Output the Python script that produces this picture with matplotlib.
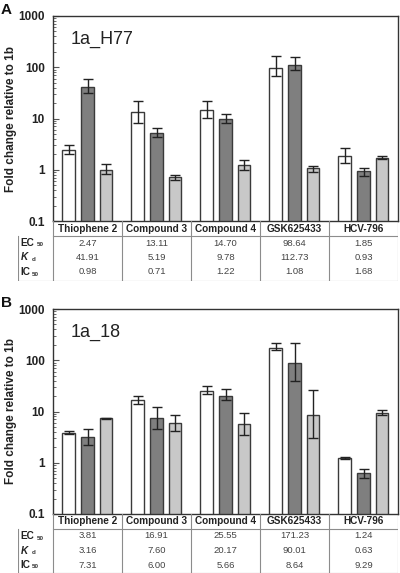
import numpy as np
import matplotlib
matplotlib.use("Agg")
import matplotlib.pyplot as plt

plt.rcParams['font.family'] = ['Liberation Sans', 'DejaVu Sans']

compounds = ["Thiophene 2", "Compound 3", "Compound 4", "GSK625433", "HCV-796"]
row_labels = ["EC", "K", "IC"]
row_subs = ["50", "d", "50"]

# panel A (1a_H77)
a_ec50 = [2.47, 13.11, 14.70, 98.64, 1.85]
a_kd = [41.91, 5.19, 9.78, 112.73, 0.93]
a_ic50 = [0.98, 0.71, 1.22, 1.08, 1.68]
a_ec50_lo = [2.06, 8.3, 10.4, 66, 1.37]
a_ec50_hi = [3.09, 21.5, 21.5, 164, 2.7]
a_kd_lo = [32, 4.4, 8.3, 87, 0.76]
a_kd_hi = [58, 6.4, 12, 157, 1.1]
a_ic50_lo = [0.83, 0.64, 1.0, 0.91, 1.62]
a_ic50_hi = [1.31, 0.8, 1.57, 1.2, 1.88]

# panel B (1a_18)
b_ec50 = [3.81, 16.91, 25.55, 171.23, 1.24]
b_kd = [3.16, 7.60, 20.17, 90.01, 0.63]
b_ic50 = [7.31, 6.00, 5.66, 8.64, 9.29]
b_ec50_lo = [3.6, 14.3, 21.5, 156, 1.2]
b_ec50_hi = [4.15, 20.5, 32, 215, 1.27]
b_kd_lo = [2.25, 4.6, 16.4, 40, 0.51]
b_kd_hi = [4.6, 12.5, 27, 215, 0.76]
b_ic50_lo = [7.05, 4.2, 3.5, 3.1, 8.7]
b_ic50_hi = [7.6, 8.4, 9.5, 26, 10.9]

W, H = 400, 573
fig = plt.figure(figsize=(4.0, 5.73), dpi=100)

def fx(px):
    return px / W

def fy(py):
    return 1 - py / H

colors = ["white", "#7f7f7f", "#c8c8c8"]
offsets = [-0.275, 0.0, 0.27]
bw = 0.18
edge = "#3a3a3a"
line_gray = "#8c8c8c"


def panel(top, letter, name, vals, lows, highs, tab_bottom):
    bottom = top + 205
    ax = fig.add_axes([fx(53), fy(bottom), fx(345), (bottom - top) / H])
    x = np.arange(len(compounds))
    for k in range(3):
        v = np.array(vals[k])
        err = [v - np.array(lows[k]), np.array(highs[k]) - v]
        ax.bar(x + offsets[k], v, bw, color=colors[k], edgecolor=edge,
               linewidth=1.0, zorder=2)
        ax.errorbar(x + offsets[k], v, yerr=err, fmt='none', ecolor='#222222',
                    elinewidth=1.0, capsize=3.5, capthick=1.0, zorder=3)
    ax.set_yscale('log')
    ax.set_ylim(0.1, 1000)
    ax.set_xlim(-0.5, 4.5)
    ax.set_xticks([])
    ax.set_yticks([0.1, 1, 10, 100, 1000])
    ax.set_yticklabels(["0.1", "1", "10", "100", "1000"])
    ax.tick_params(axis='y', which='major', direction='in', length=4,
                   width=0.8, labelsize=8.5, pad=6, color='#555555')
    ax.tick_params(axis='y', which='minor', direction='in', length=2.5,
                   width=0.6, color='#555555')
    for lab in ax.get_yticklabels():
        lab.set_fontweight('bold')
        lab.set_color('#222222')
    for s in ax.spines.values():
        s.set_color('#333333')
        s.set_linewidth(1.0)
    ax.text(0.05, 0.93, name, transform=ax.transAxes, fontsize=13,
            va='top', ha='left', color='#222222')
    ax.set_ylabel("Fold change relative to 1b", fontsize=8.5,
                  fontweight='bold', color='#222222')
    ax.yaxis.set_label_coords((17 - 53) / 345.0, 0.5)
    fig.text(fx(1), fy(top - 6), letter, fontsize=11, fontweight='bold',
             va='center', ha='left', color='#111111')

    # table below the axis
    tab = fig.add_axes([fx(18), fy(tab_bottom), fx(380),
                        (tab_bottom - bottom) / H])
    x0 = -0.5 + (18 - 53) / 69.0
    tab.set_xlim(x0, 4.5)
    tab.set_ylim(tab_bottom - bottom, 0)
    tab.axis('off')
    # category row
    tab.plot([-0.5, 4.5], [15, 15], color=line_gray, lw=0.8)
    tab.plot([x0, 4.5], [tab_bottom - bottom - 0.5] * 2, color=line_gray, lw=0.8)
    tab.plot([x0, x0], [15, tab_bottom - bottom], color=line_gray, lw=0.8)
    for b in np.arange(-0.5, 4.6, 1.0):
        tab.plot([b, b], [0, tab_bottom - bottom], color=line_gray, lw=0.8)
    for i, c in enumerate(compounds):
        tab.text(i, 7.5, c, ha='center', va='center', fontsize=7.2,
                 fontweight='bold', color='#222222')
    row_y = [22, 36.5, 51]
    for r, (lab, sub) in enumerate(zip(row_labels, row_subs)):
        style = 'italic' if lab == "K" else 'normal'
        tab.text(x0 + 0.04, row_y[r], lab, ha='left', va='center',
                 fontsize=7.2, fontweight='bold', fontstyle=style,
                 color='#222222')
        xs = {"EC": 0.235, "K": 0.16, "IC": 0.16}[lab]
        tab.text(x0 + 0.04 + xs, row_y[r] + 2, sub, ha='left', va='center',
                 fontsize=4.5, fontweight='bold', color='#333333')
        for i in range(len(compounds)):
            tab.text(i, row_y[r], "%.2f" % vals[r][i], ha='center',
                     va='center', fontsize=6.8, color='#444444')


panel(16, "A", "1a_H77", [a_ec50, a_kd, a_ic50],
      [a_ec50_lo, a_kd_lo, a_ic50_lo], [a_ec50_hi, a_kd_hi, a_ic50_hi], 281)
panel(309, "B", "1a_18", [b_ec50, b_kd, b_ic50],
      [b_ec50_lo, b_kd_lo, b_ic50_lo], [b_ec50_hi, b_kd_hi, b_ic50_hi], 573)

fig.savefig("out.png", dpi=100)
